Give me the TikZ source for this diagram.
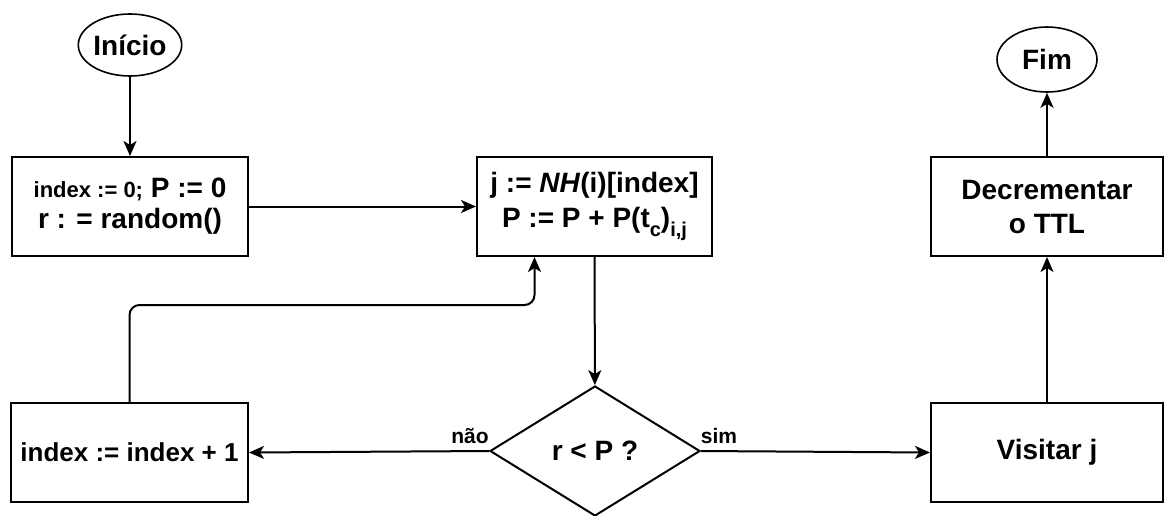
\documentclass[tikz,border=0pt]{standalone}
\usepackage{fontspec}
\setmainfont{Liberation Sans}
\usetikzlibrary{shapes.geometric,arrows.meta}
\newcommand\mysub[1]{\raisebox{-0.3em}{\fontsize{20}{20}\selectfont #1}}
\begin{document}
\begin{tikzpicture}[x=1pt,y=-1pt,
  box/.style={draw,line width=2pt,minimum width=236pt,minimum height=99pt,align=center,inner sep=0pt,font=\bfseries\fontsize{28}{34}\selectfont},
  term/.style={draw,ellipse,line width=1.6pt,inner sep=0pt,font=\bfseries\fontsize{28}{34}\selectfont},
  dec/.style={draw,diamond,aspect=1.6,line width=2pt,minimum width=210pt,minimum height=130pt,inner sep=0pt,font=\bfseries\fontsize{28}{34}\selectfont},
  lbl/.style={font=\bfseries\fontsize{21}{24}\selectfont,inner sep=0pt},
  arr/.style={line width=2pt,-{Stealth[length=15pt,width=13pt,inset=4pt]}}]
\useasboundingbox (0,0) rectangle (1164,515);

\node[term,minimum width=97pt,minimum height=62pt] (start) at (130,45) {Início};
\node[term,minimum width=100pt,minimum height=65pt] (fim) at (1047,59.5) {Fim};

\node[box] (init) at (130,206.5) {{\fontsize{22}{31}\selectfont index := 0;} P := 0\\[-3pt] r : = random()};
\node[box,minimum width=235pt] (calc) at (594.5,206.5) {j := \textit{NH}(i)[index]\\[1pt] P := P + P(t\mysub{c})\mysub{i,j}};
\node[box,minimum width=232pt] (decr) at (1047,206.5) {Decrementar\\o TTL};

\node[box,minimum width=237pt,font=\bfseries\fontsize{26}{30}\selectfont] (inc) at (129.5,452.5) {index := index + 1};
\node[dec] (cond) at (595,451) {r < P ?};
\node[box,minimum width=232pt] (vis) at (1047,452.5) {Visitar j};

\node[lbl] (nao) at (470,436) {não};
\node[lbl] (sim) at (719,436) {sim};

\draw[arr] (start) -- (init);
\draw[arr] (init) -- (calc);
\draw[arr] (calc) -- (cond);
\draw[arr] (cond.west) -- (inc.east);
\draw[arr] (cond.east) -- (vis.west);
\draw[arr] (vis) -- (decr);
\draw[arr] (decr) -- (fim);
\draw[arr,rounded corners=10pt] (inc.north) |- ([xshift=-60pt]calc.south |- 0,305) -- ([xshift=-60pt]calc.south);
\end{tikzpicture}
\end{document}
